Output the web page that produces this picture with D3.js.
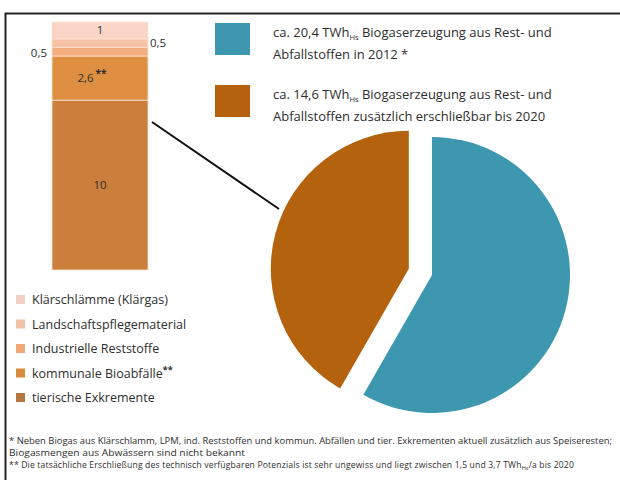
<!DOCTYPE html>
<html>
<head>
<meta charset="utf-8">
<script src="https://cdn.jsdelivr.net/npm/d3@7"></script>
<style>
  body { margin: 0; background: #fff; }
  text { font-family: "Open Sans", Lato, sans-serif; fill: #2e2e2e; }
</style>
</head>
<body>
<svg id="chart"></svg>
<script>
// stacked bar: potential additional sources (TWh)
const sources = ["Klärschlämme (Klärgas)", "Landschaftspflegematerial", "Industrielle Reststoffe", "kommunale Bioabfälle", "tierische Exkremente"];
const sourceValues = [1, 0.5, 0.5, 2.6, 10];
const sourceLabels = ["1", "0,5", "0,5", "2,6", "10"];
const sourceColors = ["#fad6c8", "#f7c3a6", "#f3ad7e", "#df8f42", "#cc7f3d"];
const legendColors = ["#f2d0c6", "#f0c0a8", "#f2a87a", "#d98c3c", "#b57840"];

// pie: 2012 vs additional until 2020
const pieNames = ["2012", "bis 2020"];
const pieValues = [20.4, 14.6];
const pieColors = ["#3d97af", "#b4620d"];

const width = 620, height = 480;
const svg = d3.select("#chart").attr("width", width).attr("height", height);

svg.append("rect").attr("width", width).attr("height", height).attr("fill", "#fff");

// frame (top + left only)
svg.append("path")
    .attr("d", "M5.5,480V13.5H620")
    .attr("fill", "none")
    .attr("stroke", "#222")
    .attr("stroke-width", 2);

// ---- stacked bar
const total = d3.sum(sourceValues);
const y = d3.scaleLinear().domain([0, total]).range([270, 22]);
const x0 = 52, barW = 96;

// stack from the bottom (last item first)
let acc = 0;
const segs = sourceValues.map((v, i) => ({ i, v })).reverse().map(d => {
    const s = { ...d, y0: acc, y1: acc + d.v };
    acc += d.v;
    return s;
});

svg.append("g").selectAll("rect")
    .data(segs)
    .join("rect")
    .attr("x", x0)
    .attr("width", barW)
    .attr("y", d => y(d.y1))
    .attr("height", d => y(d.y0) - y(d.y1))
    .attr("fill", d => sourceColors[d.i])
    .attr("stroke", "#fbe3d3")
    .attr("stroke-width", 0.8);

const mid = d => y((d.y0 + d.y1) / 2);
const segByIdx = i => segs.find(s => s.i === i);

// labels inside / beside the bar
const lab = svg.append("g").style("font-size", "11.5px");
lab.append("text").attr("x", x0 + barW / 2).attr("y", mid(segByIdx(0)) + 4)
    .attr("text-anchor", "middle").text(sourceLabels[0]);
lab.append("text").attr("x", x0 + barW + 2).attr("y", mid(segByIdx(1)) + 4)
    .text(sourceLabels[1]);
lab.append("text").attr("x", x0 - 5).attr("y", mid(segByIdx(2)) + 5)
    .attr("text-anchor", "end").text(sourceLabels[2]);
const t26 = lab.append("text").attr("x", x0 + barW / 2 - 8).attr("y", mid(segByIdx(3)) + 4)
    .attr("text-anchor", "middle").text(sourceLabels[3]);
t26.append("tspan").attr("dy", -5).attr("dx", 2).style("font-size", "10px").style("font-weight", "bold").text("**");
lab.append("text").attr("x", x0 + barW / 2).attr("y", mid(segByIdx(4)) + 4)
    .attr("text-anchor", "middle").text(sourceLabels[4]);

// connector line
svg.append("line")
    .attr("x1", 152).attr("y1", 122)
    .attr("x2", 279).attr("y2", 209)
    .attr("stroke", "#111")
    .attr("stroke-width", 2);

// ---- legend for bar
const leg = svg.append("g").attr("transform", "translate(16,300)");
const legRow = leg.selectAll("g")
    .data(sources)
    .join("g")
    .attr("transform", (d, i) => `translate(0,${i * 24.5})`);
legRow.append("rect")
    .attr("x", 0).attr("y", -5)
    .attr("width", 9).attr("height", 9)
    .attr("fill", (d, i) => legendColors[i]);
legRow.append("text")
    .attr("x", 16).attr("y", 4)
    .style("font-size", "12.5px")
    .text(d => d)
    .filter((d, i) => i === 3)
    .append("tspan").attr("dy", -5).style("font-size", "9px").style("font-weight", "bold").text("**");

// ---- pie
const pie = d3.pie().sort(null).value(d => d)(pieValues);
const r = 138;
const arc = d3.arc().innerRadius(0).outerRadius(r);
const cx = 432, cy = 275;
const explode = [0, 24];

const pg = svg.append("g").attr("transform", `translate(${cx},${cy})`);
pg.selectAll("path")
    .data(pie)
    .join("path")
    .attr("d", arc)
    .attr("fill", (d, i) => pieColors[i])
    .attr("transform", (d, i) => {
        const a = (d.startAngle + d.endAngle) / 2;
        return `translate(${Math.sin(a) * explode[i]},${-Math.cos(a) * explode[i]})`;
    });

// ---- top legend
const topLeg = [
    { v: "20,4", rest: " Biogaserzeugung aus Rest- und", line2: "Abfallstoffen in 2012 *" },
    { v: "14,6", rest: " Biogaserzeugung aus Rest- und", line2: "Abfallstoffen zusätzlich erschließbar bis 2020" }
];
const tl = svg.append("g").selectAll("g")
    .data(topLeg)
    .join("g")
    .attr("transform", (d, i) => `translate(215,${23 + i * 62})`);
tl.append("rect")
    .attr("width", 35).attr("height", 32)
    .attr("fill", (d, i) => pieColors[i]);
const l1 = tl.append("text").attr("x", 58).attr("y", 14).style("font-size", "13px");
l1.append("tspan").text(d => `ca. ${d.v} TWh`);
l1.append("tspan").attr("dy", 3).style("font-size", "7.5px").text("Hs");
l1.append("tspan").attr("dy", -3).text(d => d.rest);
tl.append("text").attr("x", 58).attr("y", 36).style("font-size", "13px").text(d => d.line2);

// ---- footnotes
const fn = svg.append("g").style("font-size", "8.6px");
fn.append("text").attr("x", 9).attr("y", 444)
    .attr("textLength", 603).attr("lengthAdjust", "spacingAndGlyphs")
    .text("* Neben Biogas aus Klärschlamm, LPM, ind. Reststoffen und kommun. Abfällen und tier. Exkrementen aktuell zusätzlich aus Speiseresten;");
fn.append("text").attr("x", 9).attr("y", 456)
    .attr("textLength", 236).attr("lengthAdjust", "spacingAndGlyphs")
    .text("Biogasmengen aus Abwässern sind nicht bekannt");
const f3 = fn.append("text").attr("x", 9).attr("y", 468).style("letter-spacing", "0.16px");
f3.append("tspan").text("** Die tatsächliche Erschließung des technisch verfügbaren Potenzials ist sehr ungewiss und liegt zwischen 1,5 und 3,7 TWh");
f3.append("tspan").attr("dy", 2).style("font-size", "5.5px").text("Hs");
f3.append("tspan").attr("dy", -2).text("/a bis 2020");
</script>
</body>
</html>
